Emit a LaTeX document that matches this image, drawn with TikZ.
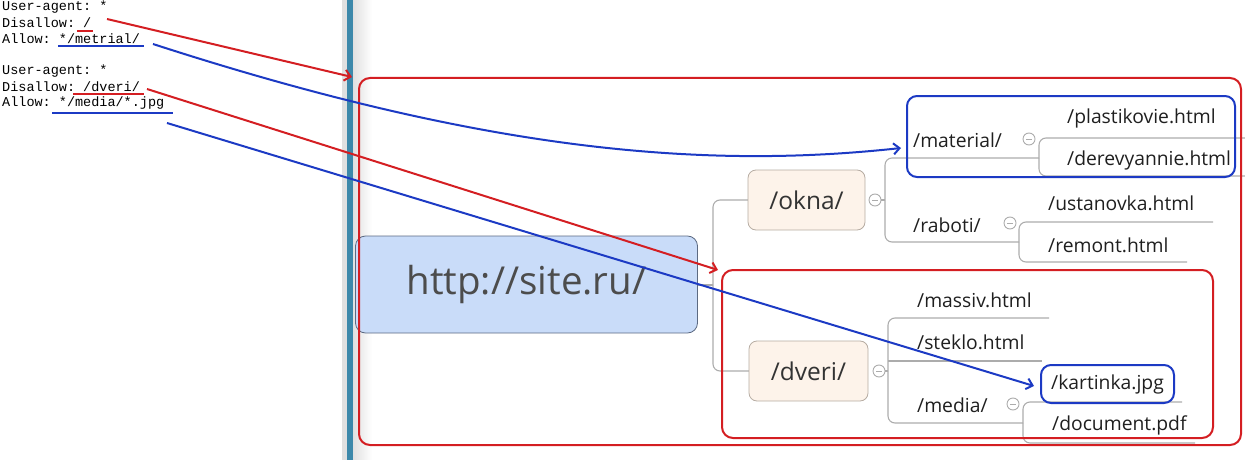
\documentclass[tikz,border=0pt]{standalone}
\usepackage{fontspec}
\setmainfont{Open Sans}
\setmonofont{Liberation Mono}
\usetikzlibrary{arrows.meta,positioning}
\definecolor{redline}{RGB}{212,30,34}
\definecolor{blueline}{RGB}{28,58,196}
\definecolor{rootfill}{RGB}{201,220,249}
\definecolor{rootborder}{RGB}{92,106,130}
\definecolor{topicfill}{RGB}{253,243,234}
\definecolor{topicborder}{RGB}{182,172,162}
\definecolor{linkgray}{RGB}{172,172,172}
\definecolor{barblue}{RGB}{60,136,170}
\begin{document}
\begin{tikzpicture}[x=1pt, y=-1pt,
	rule/.style={anchor=west, inner sep=0pt, font=\fontsize{13.5}{16}\selectfont\ttfamily},
	root/.style={draw=rootborder, fill=rootfill, rounded corners=10pt, line width=0.8pt,
		minimum width=342pt, minimum height=97pt, text=black!70,
		font=\fontsize{38.5}{46}\selectfont},
	topic/.style={draw=topicborder, fill=topicfill, rounded corners=8pt, line width=0.8pt,
		minimum height=60pt, text=black!80, font=\fontsize{24.5}{29}\selectfont},
	leaf/.style={anchor=west, inner sep=0pt, text=black!88, font=\fontsize{19.3}{23}\selectfont},
	link/.style={draw=linkgray, line width=1.1pt, rounded corners=7pt},
	fold/.style={circle, draw=linkgray, fill=white, line width=0.9pt, minimum size=12pt, inner sep=0pt},
	redframe/.style={draw=redline, line width=2pt, rounded corners=11pt},
	blueframe/.style={draw=blueline, line width=2pt, rounded corners=10pt},
	redarrow/.style={draw=redline, line width=2pt, -{Straight Barb[length=6pt,width=11pt]}},
	bluearrow/.style={draw=blueline, line width=2pt, -{Straight Barb[length=6pt,width=11pt]}}
	]
	\useasboundingbox (0,0) rectangle (1245,460);
	%window bar
	\fill[black!12] (342,0) rectangle (347,460);
	\fill[barblue] (347,0) rectangle (353,460);
	\shade[left color=black!12, right color=white] (353,0) rectangle (372,460);
	%robots.txt
	\node[rule] (ua1) at (2,7) {User-agent: *};
	\node[rule] (dis1) at (2,23) {Disallow: /};
	\node[rule] (all1) at (2,39) {Allow: */metrial/};
	\node[rule] (ua2) at (2,71) {User-agent: *};
	\node[rule] (dis2) at (2,87) {Disallow: /dveri/};
	\node[rule] (all2) at (2,103) {Allow: */media/*.jpg};
	\draw[redline, line width=2pt] (77,31) -- (93,31);
	\draw[blueline, line width=2pt] (58,46) -- (144,46);
	\draw[redline, line width=2pt] (73,94) -- (144,94);
	\draw[blueline, line width=2pt] (52,113) -- (173,113);
	\coordinate (dis1end) at (107,19);
	\coordinate (all1end) at (153,44);
	\coordinate (dis2end) at (147,89);
	\coordinate (all2end) at (167,123);
	%forks and line ends
	\coordinate (rootfork) at (713,285);
	\coordinate (okfork) at (885,200);
	\coordinate (matfork) at (1039,158);
	\coordinate (rabfork) at (1019,242);
	\coordinate (dvfork) at (888,371);
	\coordinate (medfork) at (1023,423);
	\coordinate (plastend) at (1245,138);
	\coordinate (derevend) at (1245,176);
	\coordinate (ustend) at (1213,222);
	\coordinate (remend) at (1187,262);
	\coordinate (massend) at (1049,318);
	\coordinate (stekend) at (1042,361);
	\coordinate (kartend) at (1182,402);
	\coordinate (docend) at (1195,443);
	%links
	\draw[link] (rootfork) |- (749,200);
	\draw[link] (rootfork) |- (749,371);
	\draw[link] (697,285) -- (rootfork);
	\draw[link] (880,200) -- (okfork);
	\draw[link] (okfork) |- (matfork);
	\draw[link] (okfork) |- (rabfork);
	\draw[link] (matfork) |- (plastend);
	\draw[link] (matfork) |- (derevend);
	\draw[link] (rabfork) |- (ustend);
	\draw[link] (rabfork) |- (remend);
	\draw[link] (884,371) -- (dvfork);
	\draw[link] (dvfork) |- (massend);
	\draw[link] (dvfork) |- (medfork);
	\draw[link] (dvfork |- stekend) -- (stekend);
	\draw[link] (medfork) |- (kartend);
	\draw[link] (medfork) |- (docend);
	%topics
	\node[root] (root) at (526.5,284.5) {http://site.ru/};
	\node[topic, minimum width=117pt] (okna) at (806.5,200) {/okna/};
	\node[topic, minimum width=119pt] (dveri) at (808.5,371) {/dveri/};
	\node[fold] (fokna) at (875,200) {};
	\node[fold] (fdveri) at (879,371) {};
	\node[fold] (fmat) at (1029,139) {};
	\node[fold] (frab) at (1010,223) {};
	\node[fold] (fmed) at (1013,404) {};
	\foreach \f in {fokna,fdveri,fmat,frab,fmed}
	\draw[linkgray, line width=0.9pt] ([xshift=-3pt]\f.center) -- ([xshift=3pt]\f.center);
	\node[leaf] (mat) at (913,140) {/material/};
	\node[leaf] (plast) at (1067,118) {/plastikovie.html};
	\node[leaf] (derev) at (1067,160) {/derevyannie.html};
	\node[leaf] (rab) at (913,225) {/raboti/};
	\node[leaf] (ust) at (1048,203) {/ustanovka.html};
	\node[leaf] (rem) at (1048,245) {/remont.html};
	\node[leaf] (mass) at (917,300) {/massiv.html};
	\node[leaf] (stek) at (917,342) {/steklo.html};
	\node[leaf] (med) at (917,405) {/media/};
	\node[leaf, anchor=center, blueframe, inner sep=0pt, minimum width=133pt, minimum height=38pt]
	(kart) at (1107.5,384) {/kartinka.jpg};
	\node[leaf] (doc) at (1052,425) {/document.pdf};
	%frames
	\node[redframe, minimum width=882pt, minimum height=367pt] (siteframe) at (800,261.5) {};
	\node[redframe, minimum width=491pt, minimum height=168pt] (dveriframe) at (967.5,354) {};
	\node[blueframe, minimum width=328pt, minimum height=81pt] (matframe) at (1071,136.5) {};
	%arrows
	\draw[redarrow] (dis1end) -- ([xshift=-6pt]siteframe.north west);
	\draw[bluearrow] (all1end) .. controls (480,150) and (700,170) .. ([xshift=-5pt,yshift=-11.5pt]matframe.west);
	\draw[redarrow] (dis2end) -- ([xshift=-3pt,yshift=-1pt]dveriframe.north west);
	\draw[bluearrow] (all2end) -- ([xshift=-6pt,yshift=-2pt]kart.west);
\end{tikzpicture}
\end{document}
